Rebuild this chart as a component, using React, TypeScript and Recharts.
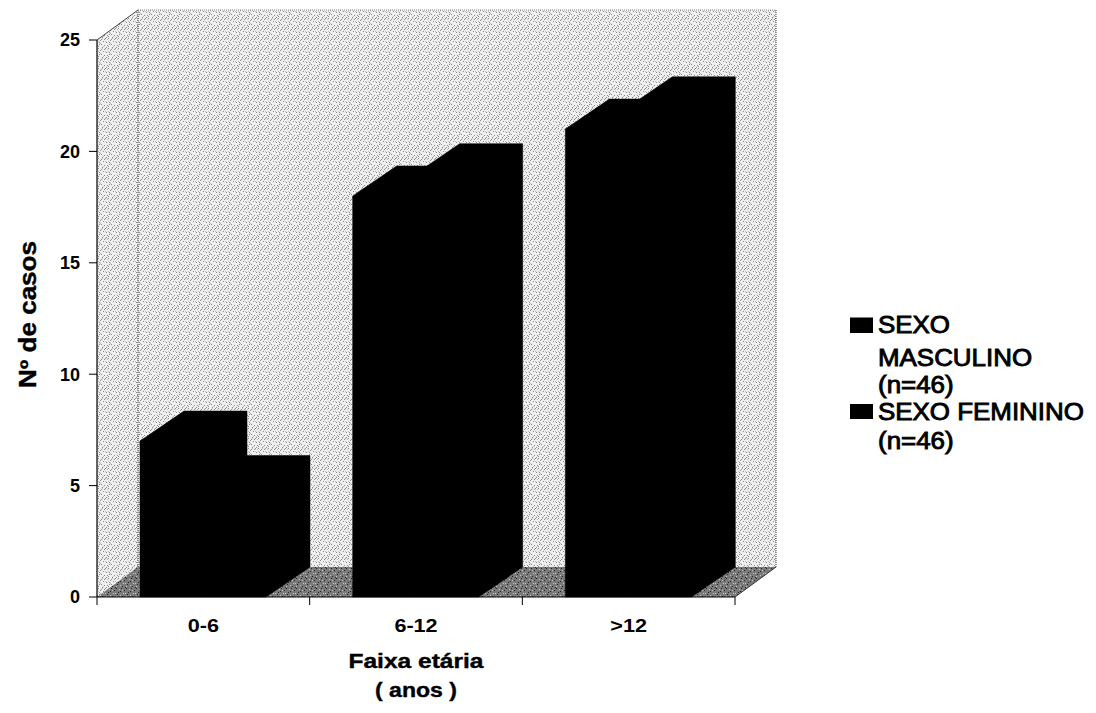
import React from 'react';
import { BarChart, Bar, XAxis, YAxis, ReferenceArea, Legend } from 'recharts';

// ---- data ----
const categories = ['0-6', '6-12', '>12'];
const masculino = [7, 18, 21];
const feminino = [5, 19, 22];
const yTicks = [0, 5, 10, 15, 20, 25];
const legendMasculino = ['SEXO', 'MASCULINO', '(n=46)'];
const legendFeminino = ['SEXO FEMININO', '(n=46)'];
const xTitle = ['Faixa etária', '( anos )'];
const yTitle = 'Nº de casos';

const data = categories.map((faixa, i) => ({
  faixa,
  masculino: masculino[i],
  feminino: feminino[i],
}));

// ---- style ----
const FONT = '"Liberation Sans", Arial, Helvetica, sans-serif';
const WALL_DX = 41;
const WALL_DY = 30;
const BAR_DX = 44;
const BAR_DY = 30;

const lightDots = [
  [0, 0], [3, 1], [7, 0], [5, 3], [1, 4], [8, 4], [3, 6], [6, 7], [0, 8], [9, 7], [4, 9], [2, 2], [8, 9], [6, 1], [1, 6],
];
const midDots = [[2, 5], [7, 3], [5, 8], [9, 1], [4, 0], [0, 3]];
const darkLightDots = [[1, 1], [4, 2], [7, 5], [2, 7], [8, 8], [5, 5]];
const darkBlackDots = [[0, 4], [3, 0], [6, 2], [9, 6], [4, 8], [7, 9], [2, 3], [8, 0]];

const Patterns = () => (
  <defs>
    <pattern id="stipLight" width={10} height={10} patternUnits="userSpaceOnUse">
      <rect width={10} height={10} fill="#efefef" />
      {lightDots.map(([a, b], i) => (
        <rect key={`l${i}`} x={a} y={b} width={1} height={1} fill="#8a8a8a" />
      ))}
      {midDots.map(([a, b], i) => (
        <rect key={`m${i}`} x={a} y={b} width={1} height={1} fill="#bcbcbc" />
      ))}
    </pattern>
    <pattern id="stipDark" width={10} height={10} patternUnits="userSpaceOnUse">
      <rect width={10} height={10} fill="#7a7a7a" />
      {darkLightDots.map(([a, b], i) => (
        <rect key={`d${i}`} x={a} y={b} width={1} height={1} fill="#c8c8c8" />
      ))}
      {darkBlackDots.map(([a, b], i) => (
        <rect key={`k${i}`} x={a} y={b} width={1} height={1} fill="#222" />
      ))}
    </pattern>
  </defs>
);

const Walls = (props: any) => {
  const { x, y, width, height } = props;
  const L = x;
  const T = y;
  const R = x + width;
  const B = y + height;
  const dx = WALL_DX;
  const dy = WALL_DY;
  const n = categories.length;
  return (
    <g>
      <Patterns />
      <polygon
        points={`${L},${T} ${L + dx},${T - dy} ${L + dx},${B - dy} ${L},${B}`}
        fill="url(#stipLight)"
      />
      <rect x={L + dx} y={T - dy} width={width} height={height} fill="url(#stipLight)" />
      <polygon
        points={`${L},${B} ${L + dx},${B - dy} ${R + dx},${B - dy} ${R},${B}`}
        fill="url(#stipDark)"
      />
      <line x1={L + dx} y1={T - dy} x2={L + dx} y2={B - dy} stroke="#555" strokeWidth={1.2} strokeDasharray="1 1" />
      <line x1={L} y1={T} x2={L + dx} y2={T - dy} stroke="#444" strokeWidth={1} />
      <line x1={L + dx} y1={T - dy} x2={R + dx} y2={T - dy} stroke="#888" strokeWidth={1} strokeDasharray="1 1" />
      <line x1={R + dx} y1={T - dy} x2={R + dx} y2={B - dy} stroke="#555" strokeWidth={1.2} strokeDasharray="1 1" />
      <line x1={R} y1={B} x2={R + dx} y2={B - dy} stroke="#333" strokeWidth={1} />
      {Array.from({ length: n + 1 }).map((_, i) => (
        <line key={i} x1={L + (i * width) / n} y1={B} x2={L + (i * width) / n} y2={B + 8} stroke="#000" strokeWidth={1} />
      ))}
    </g>
  );
};

const Bar3D = (props: any) => {
  const { x, y, width, height } = props;
  if (height == null || height <= 0) return null;
  const dx = BAR_DX;
  const dy = BAR_DY;
  const d = `M${x},${y + height} L${x},${y} L${x + dx},${y - dy} L${x + width + dx},${y - dy} L${x + width + dx},${y + height - dy} L${x + width},${y + height} Z`;
  return <path d={d} fill="#000" stroke="#000" strokeWidth={0.5} />;
};

const XTick = (props: any) => {
  const { x, y, payload } = props;
  return (
    <g transform={`translate(${x},${y + 35}) scale(1.2,1)`}>
      <text
        x={0}
        y={0}
        textAnchor="middle"
        fontFamily={FONT}
        fontWeight="bold"
        fontSize={18}
        fill="#000"
      >
        {payload.value}
      </text>
    </g>
  );
};

const renderXTitle = (props: any) => {
  const vb = props.viewBox || { x: 89, y: 589, width: 638, height: 40 };
  const cx = vb.x + vb.width / 2;
  return (
    <g>
      <text x={cx} y={vb.y + 71} textAnchor="middle" fontFamily={FONT} fontWeight="bold" fontSize={21} fill="#000" stroke="#000" strokeWidth={0.4} textLength={135} lengthAdjust="spacingAndGlyphs">
        {xTitle[0]}
      </text>
      <text x={cx} y={vb.y + 100} textAnchor="middle" fontFamily={FONT} fontWeight="bold" fontSize={21} fill="#000" stroke="#000" strokeWidth={0.4} textLength={82} lengthAdjust="spacingAndGlyphs">
        {xTitle[1]}
      </text>
    </g>
  );
};

const renderYTitle = (props: any) => {
  const vb = props.viewBox || { x: 0, y: 32, width: 89, height: 557 };
  const cx = 20;
  const cy = vb.y + vb.height / 2 - 4;
  return (
    <text
      x={cx}
      y={cy}
      transform={`rotate(-90 ${cx} ${cy})`}
      textAnchor="middle"
      dominantBaseline="central"
      fontFamily={FONT}
      fontWeight="bold"
      fontSize={23}
      fill="#000"
      stroke="#000"
      strokeWidth={0.4}
      textLength={147}
      lengthAdjust="spacingAndGlyphs"
    >
      {yTitle}
    </text>
  );
};

const mascBaselines = [28, 61, 88];
const femBaselines = [115, 144];

const LegendBox = () => (
  <svg width={250} height={160} style={{ display: 'block', overflow: 'visible' }}>
    <rect x={5} y={12.5} width={23} height={15.5} fill="#000" />
    <rect x={5} y={99} width={23} height={15} fill="#000" />
    <g transform="translate(33,0) scale(1.08,1)" fontFamily={FONT} fontSize={24} fill="#000" stroke="#000" strokeWidth={0.9}>
      {legendMasculino.map((t, i) => (
        <text key={`m${i}`} x={0} y={mascBaselines[i]}>{t}</text>
      ))}
      {legendFeminino.map((t, i) => (
        <text key={`f${i}`} x={0} y={femBaselines[i]}>{t}</text>
      ))}
    </g>
  </svg>
);

export default function App() {
  return (
    <BarChart
      width={1080}
      height={705}
      data={data}
      margin={{ top: 32, right: 353, left: 0, bottom: 76 }}
      barGap={0}
      barSize={63}
    >
      <ReferenceArea y1={0} y2={25} shape={Walls} ifOverflow="visible" />
      <XAxis
        dataKey="faixa"
        tickLine={false}
        tickSize={0}
        tickMargin={0}
        axisLine={{ stroke: '#000', strokeWidth: 1.2 }}
        tick={XTick}
        height={40}
        interval={0}
        label={renderXTitle}
      />
      <YAxis
        domain={[0, 25]}
        ticks={yTicks}
        interval={0}
        width={89}
        tickSize={8}
        tickMargin={9}
        axisLine={{ stroke: '#000', strokeWidth: 1.2 }}
        tickLine={{ stroke: '#000' }}
        tick={{ fill: '#000', fontSize: 18, fontWeight: 'bold', fontFamily: FONT }}
        label={renderYTitle}
      />
      <Legend
        layout="horizontal"
        verticalAlign="middle"
        align="center"
        content={LegendBox}
        wrapperStyle={{ left: 837, top: 297, width: 250, height: 160 }}
      />
      <Bar dataKey="masculino" name="SEXO MASCULINO (n=46)" fill="#000" shape={Bar3D} isAnimationActive={false} />
      <Bar dataKey="feminino" name="SEXO FEMININO (n=46)" fill="#000" shape={Bar3D} isAnimationActive={false} />
    </BarChart>
  );
}
